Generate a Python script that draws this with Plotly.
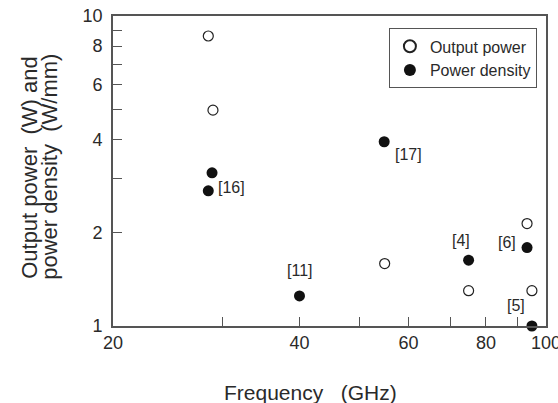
import math
import plotly.graph_objects as go

# ---- data ----
freq_output = [28.5, 29.0, 54.9, 75.0, 93.2, 94.9]          # GHz
output_power = [8.62, 4.97, 1.59, 1.30, 2.14, 1.30]          # W

freq_density = [28.9, 28.5, 54.8, 40.0, 75.0, 93.2, 94.9]   # GHz
power_density = [3.12, 2.73, 3.93, 1.25, 1.63, 1.79, 1.00]  # W/mm
density_refs = ["", "[16]", "[17]", "[11]", "[4]", "[6]", "[5]"]

x_tickvals = [20, 30, 40, 50, 60, 70, 80, 90, 100]
x_ticktext = ["20", "", "40", "", "60", "", "80", "", "100"]
y_tickvals = [1, 2, 3, 4, 5, 6, 7, 8, 9, 10]
y_ticktext = ["1", "2", "", "4", "", "6", "", "8", "", "10"]

# label offsets (pixels) for the reference tags, same order as density_refs
label_shift = [(0, 0), (23, 3), (24, -13), (1, 25), (-8, 20), (-20, 5), (-16, 21)]

FONT = "Liberation Sans, Arial, sans-serif"
TXT = "#2a2a2a"
AX = "#555555"

fig = go.Figure()
fig.add_trace(go.Scatter(
    x=freq_output, y=output_power, mode="markers", name="Output power",
    marker=dict(symbol="circle-open", size=10, color="#222222", line=dict(width=1.2)),
    cliponaxis=False,
))
fig.add_trace(go.Scatter(
    x=freq_density, y=power_density, mode="markers", name="Power density",
    marker=dict(symbol="circle", size=11, color="#111111"),
    cliponaxis=False,
))

annotations = []
for fx, py, lab, (dx, dy) in zip(freq_density, power_density, density_refs, label_shift):
    if not lab:
        continue
    annotations.append(dict(
        x=math.log10(fx), y=math.log10(py), xref="x", yref="y", text=lab,
        showarrow=False, xshift=dx, yshift=dy,
        font=dict(family=FONT, size=16, color=TXT),
    ))

annotations.append(dict(
    x=-0.192, y=0.513, xref="paper", yref="paper",
    text="Output power\u00a0\u00a0(W)\u00a0and", textangle=-90, showarrow=False,
    xanchor="center", yanchor="middle", font=dict(family=FONT, size=22, color=TXT),
))
annotations.append(dict(
    x=-0.146, y=0.513, xref="paper", yref="paper",
    text="power density\u00a0\u00a0(W/mm)", textangle=-90, showarrow=False,
    xanchor="center", yanchor="middle", font=dict(family=FONT, size=22, color=TXT),
))
annotations.append(dict(
    x=0.455, y=-0.213, xref="paper", yref="paper",
    text="Frequency\u00a0\u00a0\u00a0(GHz)", showarrow=False,
    xanchor="center", yanchor="middle", font=dict(family=FONT, size=21, color=TXT),
))

fig.update_layout(
    width=558, height=403,
    margin=dict(l=113, r=12, t=16, b=77),
    paper_bgcolor="white", plot_bgcolor="white",
    font=dict(family=FONT, size=18, color=TXT),
    showlegend=True,
    legend=dict(
        x=0.979, y=0.960, xanchor="right", yanchor="top",
        bordercolor=AX, borderwidth=1, bgcolor="white",
        font=dict(family=FONT, size=16, color=TXT),
        tracegroupgap=0, itemsizing="constant",
    ),
    annotations=annotations,
)
fig.update_xaxes(
    type="log", range=[math.log10(20), math.log10(100)],
    tickmode="array", tickvals=x_tickvals, ticktext=x_ticktext,
    ticks="inside", ticklen=9, tickwidth=1.3, tickcolor=AX,
    showline=True, linecolor=AX, linewidth=1.6, mirror=True,
    showgrid=False, zeroline=False, automargin=False,
    ticklabeloverflow="allow",
    tickfont=dict(family=FONT, size=18, color=TXT),
)
fig.update_yaxes(
    type="log", range=[0, 1],
    tickmode="array", tickvals=y_tickvals, ticktext=y_ticktext,
    ticks="inside", ticklen=9, tickwidth=1.3, tickcolor=AX,
    showline=True, linecolor=AX, linewidth=1.6, mirror=True,
    showgrid=False, zeroline=False, automargin=False,
    ticklabelstandoff=5, ticklabeloverflow="allow",
    tickfont=dict(family=FONT, size=18, color=TXT),
)

fig.write_html("out.html")
